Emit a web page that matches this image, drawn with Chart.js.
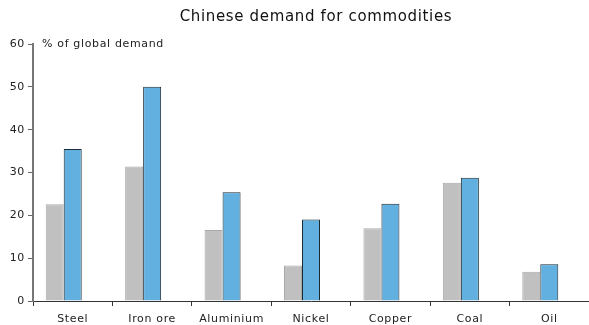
<!DOCTYPE html>
<html>
<head>
<meta charset="utf-8">
<script src="https://cdn.jsdelivr.net/npm/chart.js@4"></script>
<style>
  html, body { margin: 0; padding: 0; background: #fff; }
  #wrap { width: 589px; height: 325px; }
</style>
</head>
<body>
<div id="wrap"><canvas id="chart"></canvas></div>
<script>
// data
const commodities = ['Steel', 'Iron ore', 'Aluminium', 'Nickel', 'Copper', 'Coal', 'Oil'];
const greySeries = [22.6, 31.4, 16.6, 8.3, 17.0, 27.6, 6.8];
const blueSeries = [35.5, 50.0, 25.4, 19.0, 22.7, 28.8, 8.6];
const emptySeries = [null, null, null, null, null, null, null]; // keeps the empty third slot of each group
const yTicks = [0, 10, 20, 30, 40, 50, 60];

Chart.defaults.font.family = '"DejaVu Sans", Verdana, sans-serif';
Chart.defaults.color = '#222';

// the source text is a bit wider than DejaVu, so space it out a little
const wideText = {
    id: 'wideText',
    beforeUpdate: (chart) => { chart.ctx.letterSpacing = '0.65px'; },
    beforeDraw: (chart) => { chart.ctx.letterSpacing = '0.65px'; }
};

// title (sits right of centre in the source) and the unit label inside the plot
const chartTexts = {
    id: 'chartTexts',
    afterDraw: (chart) => {
        const ctx = chart.ctx;
        const area = chart.chartArea;
        ctx.save();
        ctx.textBaseline = 'middle';
        ctx.font = '15px "DejaVu Sans", Verdana, sans-serif';
        ctx.fillStyle = '#111';
        ctx.textAlign = 'center';
        ctx.fillText('Chinese demand for commodities', 316, 17);
        ctx.font = '11px "DejaVu Sans", Verdana, sans-serif';
        ctx.fillStyle = '#222';
        ctx.textAlign = 'left';
        ctx.fillText('% of global demand', area.left + 9, area.top);
        ctx.restore();
    }
};

const barOpts = { borderWidth: 1, barPercentage: 1, categoryPercentage: 0.68 };

new Chart(document.getElementById('chart'), {
    type: 'bar',
    data: {
        labels: commodities,
        datasets: [
            Object.assign({ data: greySeries, backgroundColor: '#c0c0c0', borderColor: '#a9a9a9' }, barOpts),
            Object.assign({ data: blueSeries, backgroundColor: '#62b0e0', borderColor: '#1c2a33' }, barOpts),
            Object.assign({ data: emptySeries, backgroundColor: 'transparent' }, barOpts, { borderWidth: 0 })
        ]
    },
    options: {
        responsive: true,
        maintainAspectRatio: false,
        animation: false,
        layout: { padding: { top: 44, left: 0, right: 0, bottom: 0 } },
        plugins: {
            legend: { display: false },
            tooltip: { enabled: false },
            title: { display: false }
        },
        scales: {
            x: {
                afterFit: (axis) => { axis.height = 24; },
                grid: { display: true, drawOnChartArea: false, offset: true, tickLength: 5, color: '#333' },
                border: { color: '#333', width: 1 },
                ticks: { font: { size: 11 }, color: '#222', padding: 7, maxRotation: 0, autoSkip: false }
            },
            y: {
                min: 0,
                max: 60,
                afterFit: (axis) => { axis.width = 33; },
                afterBuildTicks: (axis) => { axis.ticks = yTicks.map(v => ({ value: v })); },
                grid: { display: true, drawOnChartArea: false, tickLength: 5, color: '#666' },
                border: { color: '#777', width: 2 },
                ticks: { font: { size: 11 }, color: '#222', padding: 3 }
            }
        }
    },
    plugins: [wideText, chartTexts]
});
</script>
</body>
</html>
